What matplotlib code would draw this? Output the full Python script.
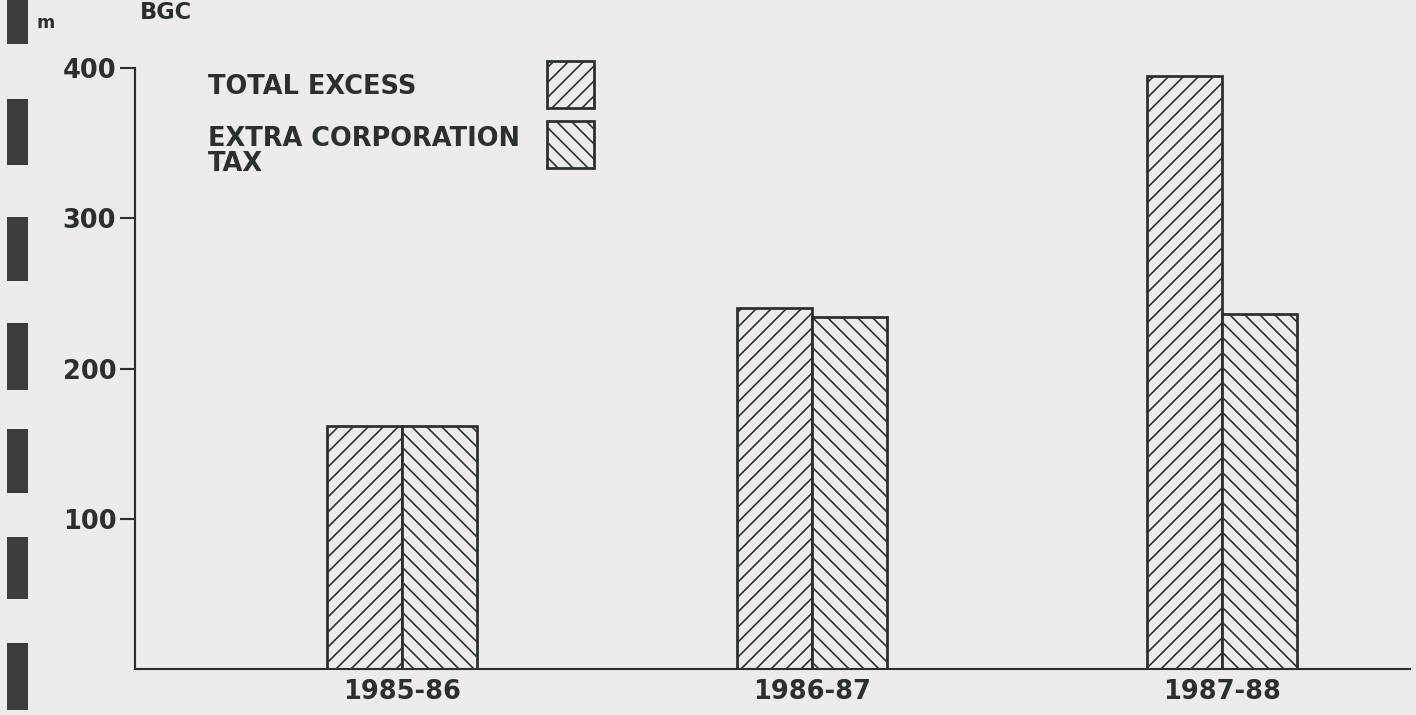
import matplotlib.pyplot as plt
from matplotlib.patches import Rectangle
import numpy as np

years = ["1985-86", "1986-87", "1987-88"]
total_excess = [162, 240, 395]
extra_corp_tax = [162, 234, 236]
yticks = [100, 200, 300, 400]
series_labels = ["TOTAL EXCESS", "EXTRA CORPORATION\nTAX"]

INK = "#2b302d"
PAPER = "#ecedeb"
W, H, DPI = 1416, 715, 90

plt.rcParams['font.family'] = ['DejaVu Sans']
plt.rcParams['font.weight'] = 'bold'
plt.rcParams['hatch.linewidth'] = 1.3
plt.rcParams['hatch.color'] = INK


def fx(px):
    return px / W


def fy(py):
    return 1 - py / H


fig = plt.figure(figsize=(W / DPI, H / DPI), dpi=DPI, facecolor=PAPER)
ax = fig.add_axes([fx(135), fy(669), fx(1410) - fx(135), fy(68) - fy(669)])
ax.set_facecolor(PAPER)

x = np.arange(len(years))
w = 0.183
styles = [dict(hatch='//', facecolor=PAPER, edgecolor=INK, linewidth=2.2),
          dict(hatch='\\\\', facecolor=PAPER, edgecolor=INK, linewidth=2.2)]
ax.bar(x - w / 2, total_excess, w, **styles[0])
ax.bar(x + w / 2, extra_corp_tax, w, **styles[1])

ax.set_xlim(-0.651, 2.459)
ax.set_ylim(0, 400)
ax.set_yticks(yticks)
ax.set_xticks(x)
ax.set_xticklabels(years)
for s in ['top', 'right']:
    ax.spines[s].set_visible(False)
for s in ['left', 'bottom']:
    ax.spines[s].set_color(INK)
    ax.spines[s].set_linewidth(1.7)
ax.tick_params(axis='y', length=12, width=1.7, color=INK, pad=3,
               labelsize=20.5, labelcolor=INK)
ax.tick_params(axis='x', length=0, pad=8, labelsize=20.5, labelcolor=INK)

# legend drawn by hand: text on the left, swatch on the right
fig.text(fx(208), fy(87), series_labels[0], fontsize=20.5, color=INK,
         va='center', ha='left')
fig.text(fx(208), fy(126), series_labels[1], fontsize=20.5, color=INK,
         va='top', ha='left', linespacing=0.95)
for st, top in zip(styles, [61, 121]):
    fig.add_artist(Rectangle((fx(547), fy(top + 47)), fx(47), 47 / H,
                             transform=fig.transFigure, **st))

# page header bits
fig.text(fx(140), fy(1), "BGC", fontsize=18, color=INK, va='top', ha='left')
fig.text(fx(37), fy(23), "m", fontsize=14, color=INK, va='center', ha='left')

# binder punch marks down the left edge of the scan
for top, bot in [(-5, 44), (99, 165), (217, 281), (323, 390),
                 (429, 493), (537, 599), (643, 710)]:
    fig.add_artist(Rectangle((fx(7), fy(bot)), fx(21), (bot - top) / H,
                             transform=fig.transFigure, facecolor="#3b3e3c",
                             edgecolor='none'))

fig.savefig("out.png", dpi=DPI, facecolor=PAPER)
